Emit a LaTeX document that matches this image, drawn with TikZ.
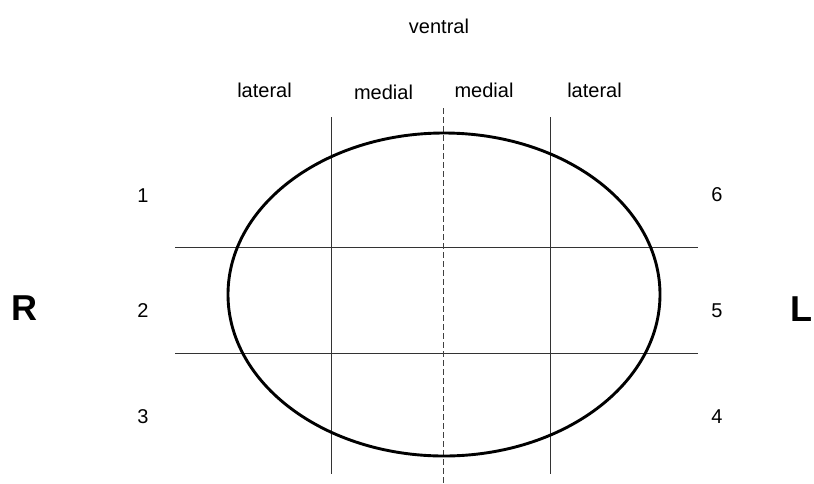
\documentclass[tikz,border=0pt]{standalone}
\usepackage{fontspec}
\setmainfont{Liberation Sans}
\begin{document}
\begin{tikzpicture}[x=1pt,y=-1pt,
  lbl/.style={anchor=base,inner sep=0pt,font=\fontsize{20}{24}\selectfont},
  side/.style={anchor=base,inner sep=0pt,font=\fontsize{36}{40}\selectfont\bfseries},
  gridline/.style={line width=0.9pt,black!80},
  midline/.style={line width=0.9pt,black!75,dash pattern=on 6pt off 3pt}]
\useasboundingbox (0,0) rectangle (814,483);
% grid lines
\draw[gridline] (175,247) -- (698,247);
\draw[gridline] (175,353) -- (698,353);
\draw[gridline] (331,117) -- (331,474);
\draw[gridline] (550,117) -- (550,474);
\draw[midline] (443,108) -- (443,483);
% ellipse
\draw[line width=2.9pt] (444,294.5) ellipse [x radius=216, y radius=161.5];
% labels
\node[lbl] (ventral) at (439,33) {ventral};
\node[lbl] (latR) at (264.5,97) {lateral};
\node[lbl] (medR) at (383.5,99) {medial};
\node[lbl] (medL) at (484,97) {medial};
\node[lbl] (latL) at (594.5,97) {lateral};
\node[lbl] (n1) at (143,202) {1};
\node[lbl] (n2) at (143,317) {2};
\node[lbl] (n3) at (143,423) {3};
\node[lbl] (n6) at (717,201) {6};
\node[lbl] (n5) at (717,317) {5};
\node[lbl] (n4) at (717,423) {4};
\node[side] (R) at (24,320) {R};
\node[side] (L) at (801,321) {L};
\end{tikzpicture}
\end{document}
